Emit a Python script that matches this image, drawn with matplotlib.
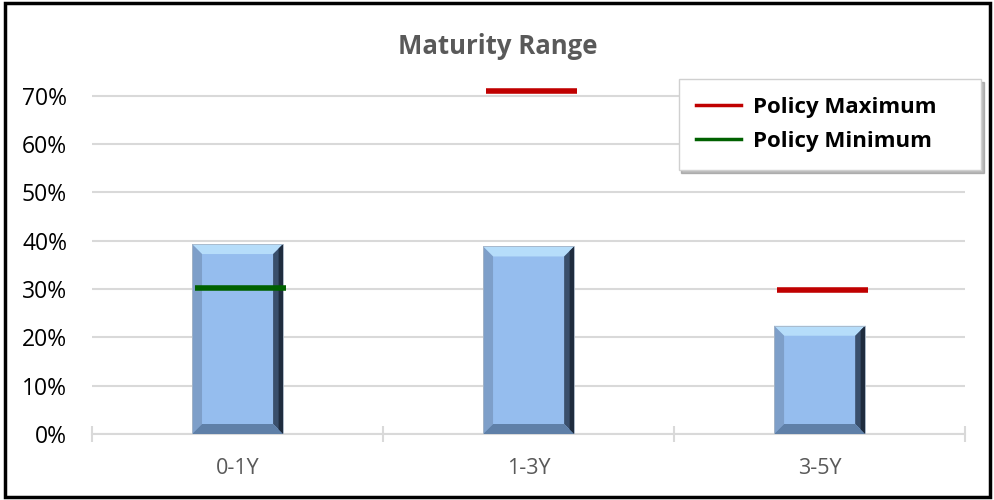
import matplotlib.pyplot as plt
import numpy as np
from matplotlib.patches import Polygon, Rectangle
from matplotlib.lines import Line2D

categories = ["0-1Y", "1-3Y", "3-5Y"]
actual = [0.393, 0.388, 0.224]
policy_max = [np.nan, 0.710, 0.298]
policy_min = [0.302, np.nan, np.nan]

plt.rcParams['font.family'] = ['Open Sans', 'DejaVu Sans']

fig = plt.figure(figsize=(9.95, 5), dpi=100)
ax = fig.add_axes([0.0925, 0.132, 0.8775, 0.696])

ymax = 0.72
ax.set_xlim(-0.5, 2.5)
ax.set_ylim(0, ymax)
x = np.arange(len(categories))
width = 0.313

# px -> data conversion for the bevel
ax_w_px = 0.8775 * 995
ax_h_px = 0.696 * 500
dx = 10 / (ax_w_px / 3)
dy = 10 / (ax_h_px / ymax)

bars = ax.bar(x, actual, width=width, color="#95BDEE", zorder=2)
for b in bars:
    x0, y0 = b.get_x(), 0
    x1, y1 = b.get_x() + b.get_width(), b.get_height()
    faces = [
        ([(x0, y1), (x1, y1), (x1 - dx, y1 - dy), (x0 + dx, y1 - dy)], "#B6DDFA"),
        ([(x0, y0), (x0, y1), (x0 + dx, y1 - dy), (x0 + dx, y0 + dy)], "#7E9FC9"),
        ([(x1, y0), (x1, y1), (x1 - dx, y1 - dy), (x1 - dx, y0 + dy)], "#3A4F6B"),
        ([(x0, y0), (x1, y0), (x1 - dx, y0 + dy), (x0 + dx, y0 + dy)], "#5F80A8"),
    ]
    for pts, c in faces:
        ax.add_patch(Polygon(pts, closed=True, facecolor=c, edgecolor="none", zorder=3))
    # darker strip along the right edge
    ax.add_patch(Polygon([(x1, y0), (x1, y1), (x1 - dx * 0.45, y1 - dy * 0.45),
                          (x1 - dx * 0.45, y0 + dy * 0.45)],
                         closed=True, facecolor="#1F2C3E", edgecolor="none", zorder=3))
    ax.add_patch(Rectangle((x0, y0), x1 - x0, y1 - y0, fill=False,
                           edgecolor="#A8B6C6", lw=0.6, zorder=4))

pmax = np.array(policy_max)
pmin = np.array(policy_min)
m = ~np.isnan(pmax)
ax.hlines(pmax[m], x[m] - width / 2 + 0.01, x[m] + width / 2 + 0.01,
          colors="#C00000", lw=4, zorder=5, clip_on=False)
m = ~np.isnan(pmin)
ax.hlines(pmin[m], x[m] - width / 2 + 0.01, x[m] + width / 2 + 0.01,
          colors="#006100", lw=4, zorder=5, clip_on=False)

yt = np.arange(0, 0.71, 0.1)
ax.set_yticks(yt)
ax.set_yticklabels([f"{int(round(v * 100))}%" for v in yt], fontsize=16.5, color="black")
ax.yaxis.grid(True, color="#D9D9D9", lw=1.5, zorder=0)
ax.set_axisbelow(True)
ax.tick_params(axis="y", length=0, pad=18)

ax.set_xticks(x)
ax.set_xticklabels(categories, fontsize=15.5, color="#595959")
ax.set_xticks([-0.5, 0.5, 1.5, 2.5], minor=True)
ax.tick_params(axis="x", which="major", length=0, pad=17)
ax.tick_params(axis="x", which="minor", length=11, direction="inout",
               color="#D9D9D9", width=1.5)

for s in ["top", "right", "left"]:
    ax.spines[s].set_visible(False)
ax.spines["bottom"].set_color("#D9D9D9")
ax.spines["bottom"].set_linewidth(1.5)

fig.text(0.5, 0.907, "Maturity Range", ha="center", va="center",
         fontsize=18.5, fontweight="bold", color="#595959")

handles = [Line2D([], [], color="#C00000", lw=2.5),
           Line2D([], [], color="#006100", lw=2.5)]
leg = fig.legend(handles, ["Policy Maximum", "Policy Minimum"],
                 loc="upper left", bbox_to_anchor=(0.682, 0.664, 0.304, 0.178),
                 mode="expand", prop={"size": 16, "weight": "bold"}, frameon=True,
                 fancybox=False, shadow={"color": "0.55", "alpha": 0.6},
                 borderpad=0.8, handlelength=2.0, handletextpad=0.55,
                 labelspacing=0.6, borderaxespad=0)
leg.get_frame().set_edgecolor("#D0D0D0")
leg.get_frame().set_linewidth(1)

fig.patches.append(Rectangle((0.005, 0.006), 0.99, 0.988, transform=fig.transFigure,
                             fill=False, edgecolor="black", lw=2.5))

fig.savefig("out.png", dpi=100)
